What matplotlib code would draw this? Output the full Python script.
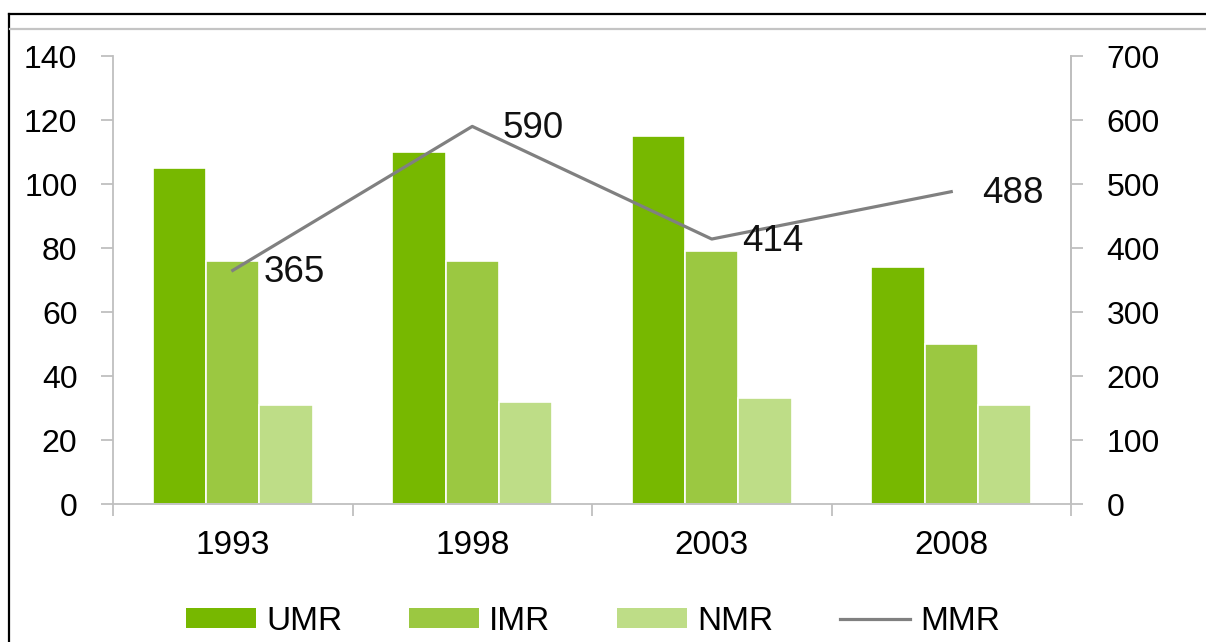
import matplotlib
matplotlib.use("Agg")
import matplotlib.pyplot as plt
from matplotlib.lines import Line2D
from matplotlib.patches import Patch
import numpy as np

plt.rcParams['font.family'] = ['Liberation Sans', 'DejaVu Sans']

years = ['1993', '1998', '2003', '2008']
umr = [105, 110, 115, 74]
imr = [76, 76, 79, 50]
nmr = [31, 32, 33, 31]
mmr = [365, 590, 414, 488]

c_umr = '#77b800'
c_imr = '#9bc841'
c_nmr = '#bedd87'
c_mmr = '#808080'
c_axis = '#bfbfbf'

W, H = 1206, 642
fig = plt.figure(figsize=(W / 100, H / 100), dpi=100)
ax = fig.add_axes([113 / W, 1 - 504 / H, (1071 - 113) / W, (504 - 56) / H])

x = np.arange(len(years))
bw = 0.222
for off, vals, col in [(-bw, umr, c_umr), (0, imr, c_imr), (bw, nmr, c_nmr)]:
    ax.bar(x + off, vals, width=bw, color=col, edgecolor='white', linewidth=1.2, zorder=2)

ax.set_xlim(-0.5, len(years) - 0.5)
ax.set_ylim(0, 140)
ax.set_yticks(np.arange(0, 141, 20))

# category boundaries as major ticks, labels at the category centres
ax.set_xticks(np.arange(-0.5, len(years), 1.0))
ax.set_xticklabels([])
ax.set_xticks(x, minor=True)
ax.set_xticklabels(years, minor=True)
ax.tick_params(axis='x', which='major', length=8.6, width=1.3, color=c_axis, direction='out')
ax.tick_params(axis='x', which='minor', length=0, pad=19, labelsize=24)
ax.tick_params(axis='y', length=8.6, width=1.3, color=c_axis, direction='out', pad=17, labelsize=23)

ax.spines['top'].set_visible(False)
for s in ['left', 'right', 'bottom']:
    ax.spines[s].set_color(c_axis)
    ax.spines[s].set_linewidth(1.3)

ax2 = ax.twinx()
ax2.set_ylim(0, 700)
ax2.set_yticks(np.arange(0, 701, 100))
ax2.tick_params(axis='y', length=8.6, width=1.3, color=c_axis, direction='out', pad=17, labelsize=23)
for s in ['top', 'left', 'bottom']:
    ax2.spines[s].set_visible(False)
ax2.spines['right'].set_color(c_axis)
ax2.spines['right'].set_linewidth(1.3)

ax2.plot(x, mmr, color=c_mmr, linewidth=2.3, zorder=3)
for xi, v in zip(x, mmr):
    ax2.annotate(str(v), (xi, v), xytext=(22, -1.5), textcoords='offset points',
                 ha='left', va='center', fontsize=26.5, color='#111111')

handles = [Patch(facecolor=c_umr, edgecolor='none'),
           Patch(facecolor=c_imr, edgecolor='none'),
           Patch(facecolor=c_nmr, edgecolor='none'),
           Line2D([0], [0], color=c_mmr, linewidth=2.3)]
fig.legend(handles, ['UMR', 'IMR', 'NMR', 'MMR'], loc='center',
           bbox_to_anchor=(593 / W, 1 - 621 / H), ncol=4, frameon=False,
           fontsize=24, handlelength=2.1, handleheight=0.55, handletextpad=0.3,
           columnspacing=2.0)

# outer frame and header rule
fig.add_artist(Line2D([9 / W, 9 / W], [0, 1 - 14 / H], color='black', linewidth=1.6,
                      transform=fig.transFigure))
fig.add_artist(Line2D([9 / W, 1], [1 - 14 / H, 1 - 14 / H], color='black', linewidth=1.6,
                      transform=fig.transFigure))
fig.add_artist(Line2D([10 / W, 1], [1 - 28.5 / H, 1 - 28.5 / H], color='#c4c4c4', linewidth=1.6,
                      transform=fig.transFigure))

fig.savefig('out.png', dpi=100)
